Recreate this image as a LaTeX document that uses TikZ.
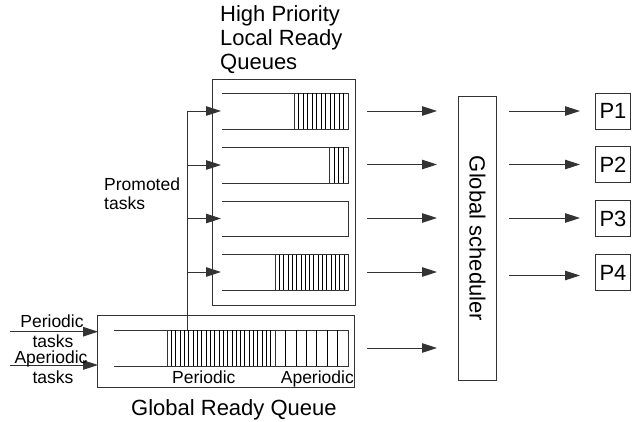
\documentclass[tikz,border=0pt]{standalone}
\usepackage{fontspec}
\setmainfont{Liberation Sans}
\usetikzlibrary{arrows.meta}
\begin{document}
\begin{tikzpicture}[x=1pt,y=-1pt,
  ln/.style={draw=black!80,line width=0.9pt},
  hatch/.style={draw=black,line width=0.55pt},
  arr/.style={ln,-{Triangle[length=15pt,width=9.5pt]}},
  bigtxt/.style={font=\fontsize{22}{26}\selectfont,inner sep=0pt},
  smalltxt/.style={font=\fontsize{17.5}{21}\selectfont,inner sep=0pt},
  boxnode/.style={ln,inner sep=0pt,anchor=north west},
  pbox/.style={ln,inner sep=0pt,minimum width=35.5pt,minimum height=36pt,font=\fontsize{22}{26}\selectfont}
]
\useasboundingbox (0,0) rectangle (634,421);
% containers
\node[boxnode,minimum width=143pt,minimum height=226pt] (lrq) at (212,79) {};
\node[boxnode,minimum width=257pt,minimum height=72pt] (grq) at (97,315) {};
\node[boxnode,minimum width=38pt,minimum height=284pt] (gs) at (458,96) {};
\node[bigtxt,rotate=-90] (gstxt) at (gs.center) {Global scheduler};
% processors
\node[pbox] (p1) at (613,111) {P1};
\node[pbox] (p2) at (613,164.7) {P2};
\node[pbox] (p3) at (613,218.7) {P3};
\node[pbox] (p4) at (613,272.5) {P4};
% local queues
\draw[ln] (222,93) -- (348,93) -- (348,129) -- (222,129);
\draw[ln] (294,93) -- (294,129);
\foreach \x in {298.5,303,...,345} \draw[hatch] (\x,93) -- (\x,129);
\draw[ln] (222,147) -- (348,147) -- (348,183) -- (222,183);
\draw[ln] (329.5,147) -- (329.5,183);
\foreach \x in {334.1,338.7,343.3} \draw[hatch] (\x,147) -- (\x,183);
\draw[ln] (222,201) -- (348,201) -- (348,236) -- (222,236);
\draw[ln] (222,254.5) -- (348,254.5) -- (348,290) -- (222,290);
\draw[ln] (275,254.5) -- (275,290);
\foreach \x in {279.3,283.6,...,344} \draw[hatch] (\x,254.5) -- (\x,290);
% global queue
\draw[ln] (114,330) -- (348,330) -- (348,366) -- (114,366);
\draw[ln] (167,330) -- (167,366);
\foreach \x in {171.32,175.64,...,271} \draw[hatch] (\x,330) -- (\x,366);
\draw[ln] (275,330) -- (275,366);
\foreach \x in {285.4,295.8,...,340} \draw[hatch] (\x,330) -- (\x,366);
% promoted tasks connector
\coordinate (pv0) at (187,330);
\coordinate (pv1) at (187,111);
\coordinate (pv2) at (187,165);
\coordinate (pv3) at (187,218.5);
\coordinate (pv4) at (187,272);
\coordinate (q1in) at (221,111);
\coordinate (q2in) at (221,165);
\coordinate (q3in) at (221,218.5);
\coordinate (q4in) at (221,272);
\draw[ln] (pv0) -- (pv1);
\draw[arr] (pv1) -- (q1in);
\draw[arr] (pv2) -- (q2in);
\draw[arr] (pv3) -- (q3in);
\draw[arr] (pv4) -- (q4in);
% input arrows
\coordinate (in1s) at (10,331.7);
\coordinate (in1e) at (98,331.7);
\coordinate (in2s) at (10,365);
\coordinate (in2e) at (98,365);
\draw[arr] (in1s) -- (in1e);
\draw[arr] (in2s) -- (in2e);
% queues to scheduler
\foreach \i/\y in {1/111,2/164.5,3/218,4/272,5/348} {
  \coordinate (m\i s) at (367,\y);
  \coordinate (m\i e) at (437,\y);
  \draw[arr] (m\i s) -- (m\i e);
}
% scheduler to processors
\foreach \i/\y in {1/111,2/164.5,3/218,4/275.5} {
  \coordinate (s\i s) at (509,\y);
  \coordinate (s\i e) at (580,\y);
  \draw[arr] (s\i s) -- (s\i e);
}
% texts
\node[bigtxt,anchor=base west] (h1) at (220,21) {High Priority};
\node[bigtxt,anchor=base west] (h2) at (220,45) {Local Ready};
\node[bigtxt,anchor=base west] (h3) at (220,69) {Queues};
\node[bigtxt,anchor=base west] (grqtxt) at (131,415) {Global Ready Queue};
\node[smalltxt,anchor=base west] (lp) at (172,383) {Periodic};
\node[smalltxt,anchor=base east] (la) at (354,383) {Aperiodic};
\node[smalltxt,anchor=base] (ip1) at (52,327) {Periodic};
\node[smalltxt,anchor=base] (ip2) at (53,347) {tasks};
\node[smalltxt,anchor=base] (ia1) at (51,363) {Aperiodic};
\node[smalltxt,anchor=base] (ia2) at (53,383) {tasks};
\node[smalltxt,anchor=base west] (pt1) at (104,190) {Promoted};
\node[smalltxt,anchor=base west] (pt2) at (104,209) {tasks};
\end{tikzpicture}
\end{document}
